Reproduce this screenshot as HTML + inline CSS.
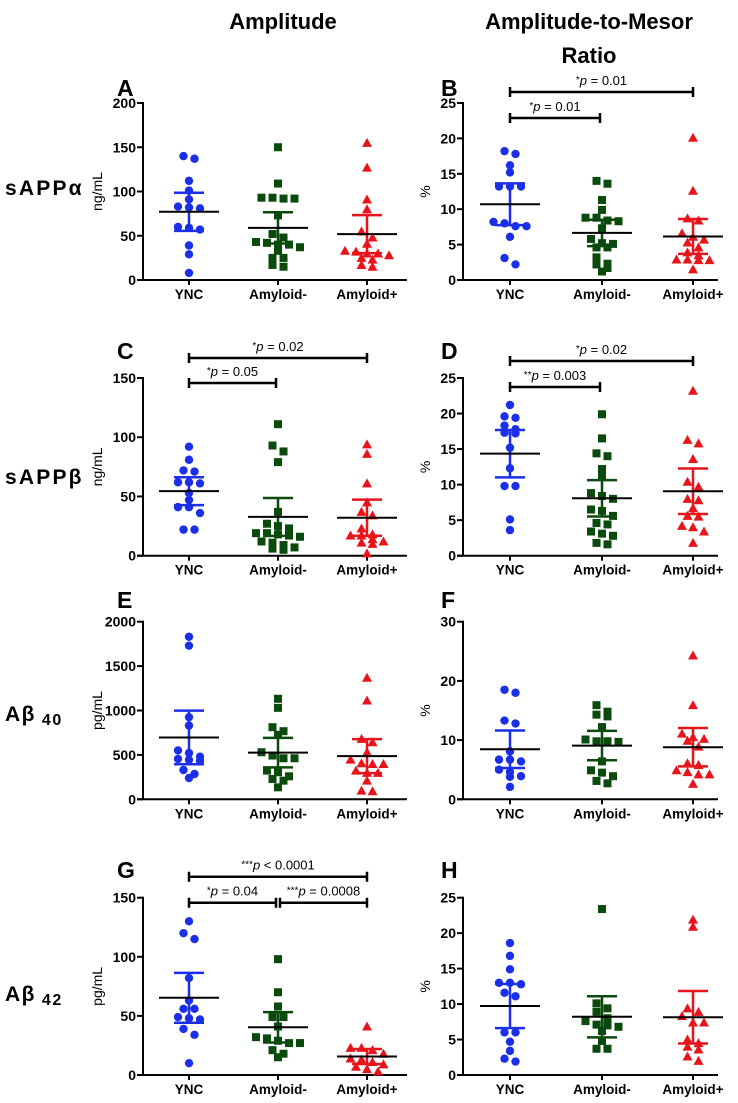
<!DOCTYPE html>
<html><head><meta charset="utf-8">
<style>
html,body{margin:0;padding:0;background:#fff;}
svg{display:block;font-family:"Liberation Sans",Arial,sans-serif;}
</style></head>
<body>
<svg id="fig" width="738" height="1103" viewBox="0 0 738 1103" xmlns="http://www.w3.org/2000/svg">
<text x="283" y="29" font-size="22" font-weight="bold" text-anchor="middle">Amplitude</text>
<text x="589" y="29" font-size="22" font-weight="bold" text-anchor="middle">Amplitude-to-Mesor</text>
<text x="589" y="63" font-size="22" font-weight="bold" text-anchor="middle">Ratio</text>
<text x="5" y="195" font-size="21" font-weight="bold" letter-spacing="2.2">sAPPα</text>
<text x="5" y="484" font-size="21" font-weight="bold" letter-spacing="2.2">sAPPβ</text>
<text x="5" y="721" font-size="21" font-weight="bold" letter-spacing="1.5">Aβ<tspan font-size="16" dy="4"> 40</tspan></text>
<text x="5" y="1001" font-size="21" font-weight="bold" letter-spacing="1.5">Aβ<tspan font-size="16" dy="4"> 42</tspan></text>
</svg>
<script>
const categories = ["YNC","Amyloid-","Amyloid+"];
const dataA = [[140,137,112,101,91,83,82,81,60,59,57,39,29,8],[150,109,93,92,92,93,73,52,48,43,42,40,40,37,33,25,25,17,15],[155,127,91,80,55,48,41,33,32,30,30,28,25,23,17,15]];
const dataB = [[18.2,17.8,16.2,15.2,13.2,13.2,13.2,8.2,8,7.6,7.6,6.1,3.1,2.2],[14,13.6,11.3,9.9,8.8,8.8,8.4,8.3,7.3,5.8,5.2,5.1,4.6,4.6,3.2,2.3,2.2,1.7,1.2],[20.1,12.6,8.7,8.4,6.6,6.1,5.7,5.3,4.6,3.9,3.5,2.9,2.9,2.8,2.8,1.5]];
const dataC = [[92,81,72,71,62,62,61,53,47,41,41,36,22,22],[111,93,88,79,37,27,25,23,19,19,18,17,16,12,11,9,7,6,5],[94,86,61,45,37,34,23,18,17,17,14,12,11,10,2]];
const dataD = [[21.2,19.6,19.4,18.3,17.8,17.3,17.2,15.2,12.3,9.8,9.8,5.1,3.6],[19.9,16.5,14.4,14,12.2,11.1,8.8,8.4,8,6.5,6.3,5.6,4.6,4.4,3.4,3.1,2.8,1.8,1.6],[23.2,16.3,15.8,13.6,10.4,9.7,8,7.8,6.7,5.5,5.6,4.2,4,3.4,1.8]];
const dataE = [[1830,1730,925,830,550,520,480,455,445,435,330,285,240],[1132,1030,812,767,726,530,493,462,462,323,305,259,229,210,135],[1369,1113,680,643,530,447,406,398,398,323,297,297,210,98,90]];
const dataF = [[18.5,18,13.3,12.8,8.1,6.7,6.7,6.4,5,4.6,3.9,3.8,2.1],[15.9,14.8,14.3,14,12.2,10.1,9.8,9.8,9.7,6.4,4.9,4.5,3.9,3.1,2.7],[24.3,15.9,11.1,10.5,10.2,9.9,8.9,6.1,5.8,4.9,4.6,4.2,4.2,2.6]];
const dataG = [[130,120,115,82,63,56,56,49,48,47,39,34,10],[98,70,58,49,49,41,32,31,29,27,27,21,18,15],[41,23,23,21,18,14,13,11,9,7,5,3]];
const dataH = [[18.6,16.8,14.9,13,13,12.8,11.6,11.1,6,6,4.7,3.4,2.3,1.9],[23.4,10.1,9.4,8.9,8,7.6,7.1,7,6.8,6.2,4.8,3.7,3.7],[21.9,20.9,9.4,8.9,8.3,7.4,7.4,5,4.5,4,3.6,2.6,2]];
const ticksAmp150 = [0,50,100,150];
const ticksAmp200 = [0,50,100,150,200];
const ticksPct25 = [0,5,10,15,20,25];
const ticksPct30 = [0,10,20,30];
const ticksE = [0,500,1000,1500,2000];
const sigB = [[0,2,"*","p = 0.01"],[0,1,"*","p = 0.01"]];
const sigC = [[0,2,"*","p = 0.02"],[0,1,"*","p = 0.05"]];
const sigD = [[0,2,"*","p = 0.02"],[0,1,"**","p = 0.003"]];
const sigG = [[0,2,"***","p < 0.0001"],[0,1,"*","p = 0.04"],[1,2,"***","p = 0.0008"]];

const NS="http://www.w3.org/2000/svg";
const svg=document.getElementById('fig');
const colors=["#1b2fe8","#0a4a0c","#e8141c"];
function mk(tag,attrs,parent){const e=document.createElementNS(NS,tag);for(const k in attrs)e.setAttribute(k,attrs[k]);(parent||svg).appendChild(e);return e;}

const panels=[
 {id:"a",letter:"A",col:0,y0:280,yTop:103,max:200,ticks:ticksAmp200,unit:"ng/mL",data:dataA,sig:[],ly:96,sigOff:[]},
 {id:"b",letter:"B",col:1,y0:280,yTop:103,max:25,ticks:ticksPct25,unit:"%",data:dataB,sig:sigB,ly:96,sigOff:[-11,15]},
 {id:"c",letter:"C",col:0,y0:555.7,yTop:378,max:150,ticks:ticksAmp150,unit:"ng/mL",data:dataC,sig:sigC,ly:359,sigOff:[-20,5]},
 {id:"d",letter:"D",col:1,y0:555.7,yTop:378,max:25,ticks:ticksPct25,unit:"%",data:dataD,sig:sigD,ly:359,sigOff:[-17,9]},
 {id:"e",letter:"E",col:0,y0:799.3,yTop:621.7,max:2000,ticks:ticksE,unit:"pg/mL",data:dataE,sig:[],ly:608,sigOff:[]},
 {id:"f",letter:"F",col:1,y0:799.3,yTop:621.7,max:30,ticks:ticksPct30,unit:"%",data:dataF,sig:[],ly:608,sigOff:[]},
 {id:"g",letter:"G",col:0,y0:1075,yTop:897.7,max:150,ticks:ticksAmp150,unit:"pg/mL",data:dataG,sig:sigG,ly:878,sigOff:[-21,5,5]},
 {id:"h",letter:"H",col:1,y0:1075,yTop:897.7,max:25,ticks:ticksPct25,unit:"%",data:dataH,sig:[],ly:878,sigOff:[]}
];
const cols=[{ax:143,cx:[189,278,367],end:407,title:100,letter:117},{ax:463,cx:[510,602,693],end:718,title:428,letter:441}];

panels.forEach(p=>{
 const c=cols[p.col];
 const g=mk('g',{});
 
 
 const y=v=>p.y0-(v/p.max)*(p.y0-p.yTop);
 const x=i=>c.cx[i];
 const L=mk('text',{x:c.letter,y:p.ly,'font-size':23,'font-weight':'bold'},g);L.textContent=p.letter;
 
 
 const ya=mk('line',{x1:c.ax,y1:p.yTop-1,x2:c.ax,y2:p.y0,stroke:'#000','stroke-width':2},g);
 
 
 const xa=mk('line',{x1:c.ax-6,y1:p.y0,x2:c.end,y2:p.y0,stroke:'#000','stroke-width':2},g);
 
 
 p.ticks.forEach(t=>{
  const ty=y(t);
  mk('line',{x1:c.ax-6,y1:ty,x2:c.ax,y2:ty,stroke:'#000','stroke-width':2},g);
  const tl=mk('text',{x:c.ax-7,y:ty+5,'font-size':14,'font-weight':'bold','text-anchor':'end'},g);
  tl.textContent=t;
  
  
 });
 const my=(p.y0+p.yTop)/2;
 const yt=mk('text',{x:c.title+2,y:my,'font-size':14,'text-anchor':'middle',transform:`rotate(-90 ${c.title+2} ${my})`},g);
 yt.textContent=p.unit;
 
 
 categories.forEach((cat,i)=>{
  mk('line',{x1:x(i),y1:p.y0,x2:x(i),y2:p.y0+5,stroke:'#000','stroke-width':2},g);
  const xl=mk('text',{x:x(i),y:p.y0+19,'font-size':13.5,'font-weight':'bold','text-anchor':'middle'},g);
  xl.textContent=cat;
  
  
 });
 p.data.forEach((vals,gi)=>{
  const sorted=vals.slice().sort((a,b)=>b-a);
  let clusters=[],cur=[];
  sorted.forEach(v=>{ if(cur.length&&Math.abs(y(v)-y(cur[0]))>7){clusters.push(cur);cur=[];} cur.push(v);});
  if(cur.length)clusters.push(cur);
  clusters.forEach(cl=>{
   cl.forEach((v,k)=>{
    const px=x(gi)+(k-(cl.length-1)/2)*11, py=y(v);
    let m;
    if(gi===0) m=mk('circle',{cx:px,cy:py,r:4.2,fill:colors[0]},g);
    else if(gi===1) m=mk('rect',{x:px-4,y:py-4,width:8,height:8,fill:colors[1]},g);
    else m=mk('polygon',{points:`${px},${py-5} ${px-5},${py+4} ${px+5},${py+4}`,fill:colors[2]},g);
    
    
   });
  });
  const n=vals.length, mean=vals.reduce((a,b)=>a+b,0)/n;
  const sd=Math.sqrt(vals.reduce((a,b)=>a+(b-mean)*(b-mean),0)/(n-1));
  const h=2.1*sd/Math.sqrt(n);
  const eb=mk('path',{d:`M${x(gi)},${y(mean+h)}V${y(mean-h)}M${x(gi)-15},${y(mean+h)}h30M${x(gi)-15},${y(mean-h)}h30`,stroke:colors[gi],'stroke-width':2.5,fill:'none'},g);
  
  
  const ml=mk('line',{x1:x(gi)-30,y1:y(mean),x2:x(gi)+30,y2:y(mean),stroke:'#000','stroke-width':2},g);
  
  
 });
 p.sig.forEach((s,si)=>{
  const by=p.yTop+p.sigOff[si];
  const x1=x(s[0])+(s[0]===1?2:0), x2=x(s[1])-(s[1]===1?2:0);
  const br=mk('path',{d:`M${x1},${by}H${x2}M${x1},${by-5}v10M${x2},${by-5}v10`,stroke:'#000','stroke-width':2.5,fill:'none'},g);
  
  
  const t=mk('text',{x:(x1+x2)/2,y:by-7,'font-size':13,'text-anchor':'middle'},g);
  
  
  const a=mk('tspan',{'font-size':10,dy:-2},t);a.textContent=s[2];
  const b=mk('tspan',{'font-style':'italic',dy:2},t);b.textContent=s[3].slice(0,1);
  const d=mk('tspan',{},t);d.textContent=s[3].slice(1);
 });
});
</script>
</body></html>
